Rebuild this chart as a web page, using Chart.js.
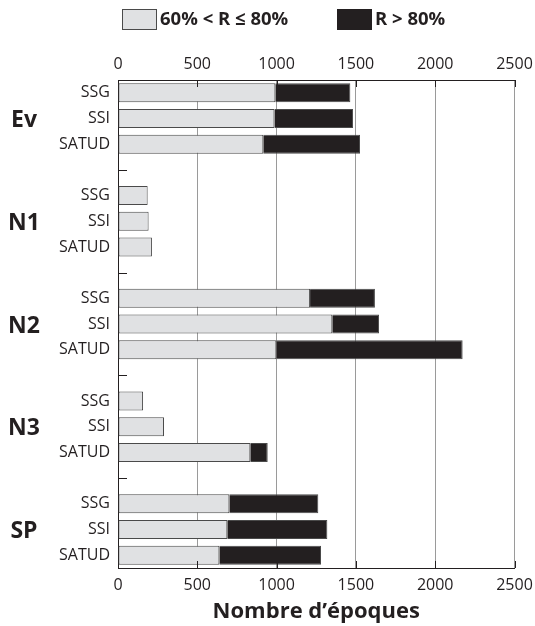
<!DOCTYPE html>
<html>
<head>
<meta charset="utf-8">
<title>Nombre d'époques</title>
<script src="https://cdn.jsdelivr.net/npm/chart.js@4.4.1/dist/chart.umd.min.js"></script>
<style>
  html, body { margin: 0; padding: 0; background: #fff; }
  #wrap { width: 535px; height: 626px; }
</style>
</head>
<body>
<div id="wrap"><canvas id="chart" width="535" height="626"></canvas></div>
<script>
// Values
const groups = ['Ev', 'N1', 'N2', 'N3', 'SP'];
const methods = ['SSG', 'SSI', 'SATUD'];
const seriesNames = ['60% < R ≤ 80%', 'R > 80%'];
// one entry per group x method, method order inside each group
const midRange = [992, 986, 916, 187, 193, 214, 1211, 1351, 998, 158, 290, 834, 702, 689, 639];
const highRange = [473, 496, 610, 0, 0, 0, 409, 295, 1175, 0, 0, 110, 561, 631, 641];
const xTicks = [0, 500, 1000, 1500, 2000, 2500];

const INK = '#231f20';
const LIGHT = '#e0e1e3';
const GRID = '#9a9a9a';
const EDGE = '#4a4a4a';

Chart.defaults.font.family = "'Open Sans', sans-serif";
Chart.defaults.color = INK;

// one slot per bar, plus an empty slot between groups
const labels = [];
const midData = [];
const highData = [];
const groupSlots = [];
groups.forEach((g, gi) => {
  methods.forEach((m, mi) => {
    const k = gi * methods.length + mi;
    if (mi === 1) groupSlots.push(labels.length);
    labels.push(m);
    midData.push(midRange[k]);
    highData.push(highRange[k]);
  });
  if (gi < groups.length - 1) {
    labels.push('');
    midData.push(null);
    highData.push(null);
  }
});

const setTicks = s => { s.ticks = xTicks.map(v => ({ value: v })); };
const plain = v => String(v);

// group names, small inner ticks and the legend
const decorations = {
  id: 'decorations',
  afterDraw(chart) {
    const { ctx, chartArea: a } = chart;
    const y = chart.scales.y;
    const x = chart.scales.x;
    ctx.save();
    ctx.strokeStyle = INK;
    ctx.lineWidth = 1;
    ctx.beginPath();
    labels.forEach((l, i) => {
      if (l !== '') return;
      const py = Math.round(y.getPixelForValue(i)) + 0.5;
      ctx.moveTo(a.left, py);
      ctx.lineTo(a.left + 9, py);
    });
    xTicks.forEach(v => {
      if (v === 0) return;
      const px = Math.round(x.getPixelForValue(v)) + 0.5;
      ctx.moveTo(px, a.bottom);
      ctx.lineTo(px, a.bottom - 7);
      ctx.moveTo(px, a.top);
      ctx.lineTo(px, a.top + 7);
    });
    ctx.stroke();

    ctx.fillStyle = INK;
    ctx.font = "bold 23px 'Open Sans', sans-serif";
    ctx.textAlign = 'center';
    ctx.textBaseline = 'alphabetic';
    groups.forEach((g, gi) => {
      ctx.fillText(g, 24, y.getPixelForValue(groupSlots[gi]) + 8.5);
    });

    // legend
    const boxX = [122, 337];
    ctx.font = "bold 18.5px 'Open Sans', sans-serif";
    ctx.textAlign = 'left';
    ctx.textBaseline = 'middle';
    chart.data.datasets.forEach((ds, i) => {
      ctx.fillStyle = ds.backgroundColor;
      ctx.fillRect(boxX[i], 9, 35, 21);
      if (i === 0) {
        ctx.strokeStyle = EDGE;
        ctx.strokeRect(boxX[i] + 0.5, 9.5, 34, 20);
      }
      ctx.fillStyle = INK;
      ctx.fillText(ds.label, boxX[i] + 38, 20);
    });
    ctx.restore();
  }
};

new Chart(document.getElementById('chart'), {
  type: 'bar',
  data: {
    labels: labels,
    datasets: [
      {
        label: seriesNames[0],
        data: midData,
        backgroundColor: LIGHT,
        borderColor: EDGE,
        borderWidth: 1,
        borderSkipped: false,
        barPercentage: 0.74,
        categoryPercentage: 1
      },
      {
        label: seriesNames[1],
        data: highData,
        backgroundColor: INK,
        borderColor: EDGE,
        borderWidth: 1,
        borderSkipped: 'start',
        barPercentage: 0.74,
        categoryPercentage: 1
      }
    ]
  },
  options: {
    responsive: false,
    animation: false,
    indexAxis: 'y',
    layout: { padding: { top: 55, right: 0, left: 0, bottom: 0 } },
    plugins: { legend: { display: false }, tooltip: { enabled: false } },
    scales: {
      x: {
        type: 'linear',
        position: 'bottom',
        stacked: true,
        min: 0,
        max: 2500,
        afterBuildTicks: setTicks,
        afterFit: s => { s.height = 58; s.paddingRight = 20.5; },
        grid: {
          color: c => (c.tick && c.tick.value === 0 ? 'rgba(0,0,0,0)' : GRID),
          drawTicks: false
        },
        border: { color: INK, width: 1 },
        ticks: { padding: 8, font: { size: 16 }, color: INK, maxRotation: 0, callback: plain },
        title: {
          display: true,
          text: 'Nombre d’époques',
          font: { size: 22, weight: 'bold' },
          color: INK,
          padding: { top: 4, bottom: 1 }
        }
      },
      x2: {
        type: 'linear',
        position: 'top',
        min: 0,
        max: 2500,
        afterBuildTicks: setTicks,
        afterFit: s => { s.height = 25; s.paddingRight = 20.5; },
        grid: { display: false, drawTicks: false },
        border: { color: INK, width: 1 },
        ticks: { padding: 6, font: { size: 16 }, color: INK, maxRotation: 0, callback: plain }
      },
      y: {
        type: 'category',
        stacked: true,
        offset: true,
        grid: { display: false, drawTicks: false },
        border: { color: INK, width: 1 },
        ticks: { padding: 8, font: { size: 16 }, color: INK, autoSkip: false },
        afterFit: s => { s.width = 118; s.paddingTop = 0; s.paddingBottom = 0; }
      }
    }
  },
  plugins: [decorations]
});
</script>
</body>
</html>
